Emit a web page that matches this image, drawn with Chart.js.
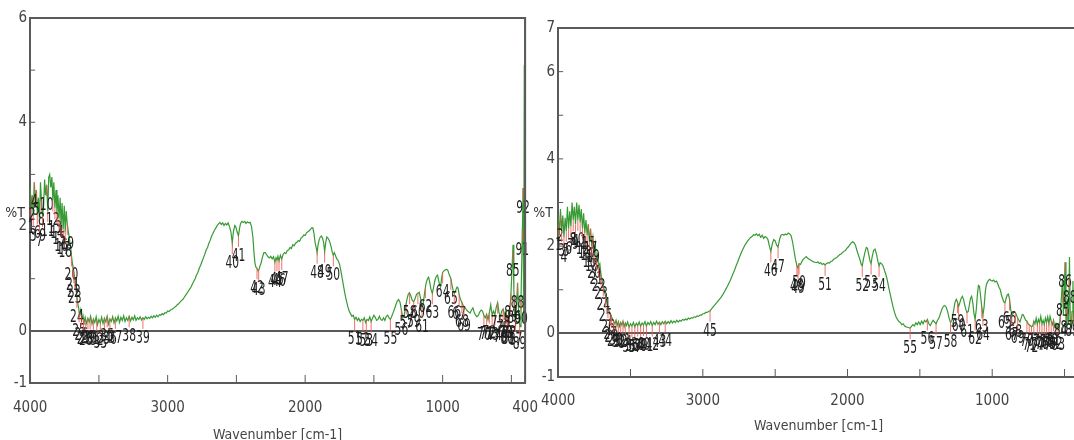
<!DOCTYPE html>
<html>
<head>
<meta charset="utf-8">
<script src="https://cdn.jsdelivr.net/npm/chart.js@4.4.1/dist/chart.umd.min.js"></script>
<style>
  html, body { margin: 0; padding: 0; background: #fff; overflow: hidden; width: 1074px; height: 440px; }
  #c1 { position: absolute; left: -3px; top: 0; }
  #c2 { position: absolute; left: 526px; top: 0; }
</style>
</head>
<body>
<canvas id="c1" width="557" height="446"></canvas>
<canvas id="c2" width="568" height="440"></canvas>
<script>
// spectrum 1 (left): [wavenumber, %T]
var leftSpectrum = [
  [4000,2.75],[3992,2.35],[3985,2.6],[3978,2.2],[3970,2.85],[3962,2.45],[3955,2.7],[3948,2.25],[3940,2.55],[3932,2.1],
  [3925,2.85],[3918,2.5],[3910,2.2],[3902,2.4],[3895,2.9],[3888,2.6],[3880,2.8],[3872,2.3],[3865,2.95],[3858,3.0],
  [3850,2.75],[3842,2.95],[3835,2.5],[3828,2.85],[3820,2.35],[3812,2.7],[3805,2.25],[3798,2.6],[3790,2.15],[3782,2.55],
  [3775,2.0],[3768,2.45],[3760,1.95],[3752,2.4],[3745,1.9],[3738,2.3],[3730,2.05],[3722,1.9],[3714,1.75],[3707,1.65],
  [3700,1.45],[3693,1.3],[3686,1.2],[3678,1.05],[3671,0.95],[3664,0.75],[3656,0.55],[3648,0.45],[3640,0.3],[3632,0.4],
  [3624,0.22],[3616,0.3],[3608,0.16],[3600,0.26],[3590,0.14],[3580,0.24],[3570,0.17],[3560,0.28],[3550,0.13],[3540,0.23],
  [3530,0.16],[3520,0.27],[3510,0.12],[3500,0.22],[3490,0.15],[3480,0.26],[3470,0.14],[3460,0.24],[3450,0.17],[3440,0.28],
  [3430,0.13],[3420,0.23],[3410,0.18],[3400,0.27],[3390,0.15],[3380,0.25],[3370,0.19],[3360,0.28],[3350,0.16],[3340,0.26],
  [3330,0.2],[3320,0.29],[3310,0.18],[3300,0.25],[3290,0.2],[3280,0.28],[3270,0.19],[3260,0.26],[3250,0.21],[3240,0.29],
  [3230,0.2],[3220,0.25],[3210,0.22],[3200,0.27],[3190,0.21],[3180,0.25],[3170,0.22],[3160,0.27],[3150,0.23],[3140,0.26],
  [3130,0.24],[3120,0.28],[3110,0.25],[3100,0.29],[3090,0.26],[3080,0.3],[3070,0.27],[3060,0.31],[3050,0.3],[3040,0.33],
  [3030,0.31],[3020,0.35],[3010,0.34],[3000,0.38],[2990,0.37],[2980,0.4],[2970,0.41],[2960,0.43],[2950,0.45],[2940,0.47],
  [2930,0.5],[2920,0.52],[2910,0.55],[2900,0.58],[2890,0.6],[2880,0.64],[2870,0.68],[2860,0.72],[2850,0.76],[2840,0.8],
  [2830,0.84],[2820,0.9],[2810,0.95],[2800,1.0],[2790,1.07],[2780,1.12],[2770,1.2],[2760,1.26],[2750,1.33],[2740,1.4],
  [2730,1.47],[2720,1.55],[2710,1.6],[2700,1.68],[2690,1.74],[2680,1.82],[2670,1.87],[2660,1.93],[2650,1.97],[2640,2.02],
  [2630,2.05],[2620,2.08],[2610,2.04],[2600,2.07],[2590,2.02],[2580,2.06],[2570,2.03],[2560,2.07],[2550,2.0],[2540,1.9],
  [2530,1.68],[2522,1.9],[2512,2.02],[2505,2.0],[2495,1.9],[2485,1.82],[2478,1.95],[2470,2.06],[2460,2.1],[2450,2.08],
  [2440,2.1],[2430,2.06],[2420,2.09],[2410,2.07],[2400,2.08],[2390,2.0],[2380,1.8],[2372,1.5],[2365,1.3],[2358,1.22],
  [2350,1.2],[2342,1.15],[2335,1.18],[2328,1.25],[2320,1.3],[2310,1.42],[2300,1.5],[2290,1.5],[2280,1.46],[2270,1.42],
  [2260,1.4],[2250,1.43],[2240,1.38],[2230,1.42],[2220,1.32],[2212,1.4],[2205,1.36],[2198,1.43],[2190,1.34],[2180,1.45],
  [2170,1.38],[2160,1.47],[2150,1.5],[2140,1.48],[2130,1.54],[2120,1.55],[2110,1.6],[2100,1.58],[2090,1.65],[2080,1.63],
  [2070,1.68],[2060,1.7],[2050,1.73],[2040,1.72],[2030,1.78],[2020,1.8],[2010,1.84],[2000,1.83],[1990,1.88],[1980,1.9],
  [1970,1.92],[1960,1.95],[1950,1.98],[1943,1.96],[1936,1.88],[1928,1.7],[1920,1.6],[1913,1.5],[1906,1.65],[1898,1.75],
  [1890,1.8],[1882,1.82],[1874,1.78],[1866,1.7],[1858,1.52],[1850,1.7],[1842,1.8],[1834,1.78],[1826,1.74],[1818,1.68],
  [1810,1.6],[1802,1.5],[1795,1.45],[1788,1.5],[1780,1.45],[1770,1.38],[1760,1.35],[1750,1.28],[1740,1.15],[1730,1.0],
  [1720,0.85],[1710,0.7],[1700,0.58],[1690,0.47],[1680,0.38],[1670,0.33],[1660,0.28],[1650,0.3],[1640,0.22],[1630,0.26],
  [1620,0.2],[1610,0.24],[1600,0.18],[1590,0.22],[1580,0.2],[1570,0.25],[1560,0.16],[1550,0.22],[1540,0.2],[1530,0.27],
  [1520,0.18],[1510,0.24],[1500,0.3],[1490,0.26],[1480,0.2],[1470,0.22],[1460,0.28],[1450,0.22],[1440,0.2],[1430,0.25],
  [1420,0.2],[1410,0.28],[1400,0.3],[1390,0.25],[1380,0.22],[1370,0.28],[1360,0.35],[1350,0.42],[1340,0.5],[1330,0.57],
  [1320,0.6],[1310,0.55],[1300,0.4],[1290,0.25],[1280,0.3],[1270,0.45],[1260,0.6],[1250,0.7],[1241,0.73],[1230,0.66],
  [1220,0.58],[1210,0.56],[1200,0.62],[1190,0.7],[1180,0.72],[1170,0.74],[1160,0.62],[1150,0.46],[1140,0.55],[1130,0.75],
  [1120,0.92],[1110,1.0],[1102,1.03],[1095,0.95],[1085,0.8],[1075,0.72],[1065,0.85],[1055,0.98],[1045,1.05],[1037,1.07],
  [1030,0.98],[1022,0.88],[1015,0.84],[1008,1.0],[1000,1.12],[990,1.15],[980,1.17],[970,1.18],[962,1.16],[955,1.1],
  [948,1.05],[940,1.0],[932,0.88],[924,0.78],[915,0.72],[905,0.78],[895,0.84],[888,0.82],[880,0.7],[870,0.6],
  [860,0.55],[850,0.48],[840,0.46],[830,0.42],[820,0.38],[810,0.36],[800,0.34],[790,0.4],[780,0.44],[770,0.35],
  [760,0.3],[750,0.27],[740,0.3],[730,0.36],[720,0.4],[710,0.38],[700,0.3],[690,0.25],[680,0.32],[670,0.21],
  [660,0.35],[650,0.5],[640,0.3],[630,0.38],[620,0.31],[610,0.45],[600,0.54],[590,0.35],[580,0.27],[570,0.38],
  [560,0.42],[550,0.3],[540,0.38],[530,0.22],[524,0.2],[515,0.35],[505,0.6],[495,1.2],[488,1.65],[482,0.8],
  [476,0.3],[470,0.2],[462,0.5],[455,0.92],[448,0.4],[442,0.15],[437,0.08],[430,0.6],[424,1.4],[418,2.2],
  [415,2.74],[412,1.0],[409,0.15],[406,5.1],[404,0.5],[402,6.5],[400,5.2]
];

// spectrum 2 (right)
var rightSpectrum = [
  [4000,2.7],[3992,2.25],[3984,2.85],[3976,2.35],[3968,2.7],[3960,2.2],[3952,2.65],[3944,2.35],[3936,2.9],[3928,2.4],
  [3920,2.8],[3912,2.45],[3904,3.0],[3896,2.6],[3888,2.9],[3880,2.5],[3872,3.0],[3864,2.6],[3856,2.95],[3848,2.55],
  [3840,2.85],[3832,2.4],[3824,2.75],[3816,2.3],[3808,2.6],[3800,2.25],[3792,2.5],[3784,2.1],[3776,2.4],[3768,2.0],
  [3760,2.2],[3752,1.85],[3744,2.05],[3736,1.7],[3728,1.8],[3720,1.55],[3712,1.6],[3704,1.35],[3696,1.2],[3688,1.1],
  [3680,0.95],[3672,0.85],[3664,0.7],[3656,0.6],[3648,0.5],[3640,0.45],[3632,0.38],[3624,0.33],[3616,0.28],[3608,0.22],
  [3600,0.3],[3592,0.18],[3584,0.27],[3576,0.16],[3568,0.25],[3560,0.19],[3552,0.28],[3544,0.15],[3536,0.24],[3528,0.18],
  [3520,0.26],[3510,0.14],[3500,0.22],[3490,0.17],[3480,0.25],[3470,0.15],[3460,0.23],[3450,0.18],[3440,0.26],[3430,0.16],
  [3420,0.24],[3410,0.19],[3400,0.27],[3390,0.17],[3380,0.25],[3370,0.2],[3360,0.27],[3350,0.18],[3340,0.25],[3330,0.2],
  [3320,0.28],[3310,0.21],[3300,0.26],[3290,0.2],[3280,0.27],[3270,0.22],[3260,0.28],[3250,0.22],[3240,0.27],[3230,0.23],
  [3220,0.29],[3210,0.24],[3200,0.28],[3190,0.25],[3180,0.3],[3170,0.26],[3160,0.3],[3150,0.28],[3140,0.32],[3130,0.3],
  [3120,0.33],[3110,0.31],[3100,0.35],[3090,0.33],[3080,0.36],[3070,0.35],[3060,0.38],[3050,0.37],[3040,0.4],[3030,0.39],
  [3020,0.42],[3010,0.42],[3000,0.45],[2990,0.45],[2980,0.48],[2970,0.48],[2960,0.5],[2950,0.52],[2940,0.56],[2930,0.6],
  [2920,0.64],[2910,0.68],[2900,0.72],[2890,0.76],[2880,0.8],[2870,0.85],[2860,0.9],[2850,0.96],[2840,1.02],[2830,1.08],
  [2820,1.15],[2810,1.22],[2800,1.3],[2790,1.38],[2780,1.46],[2770,1.55],[2760,1.63],[2750,1.72],[2740,1.8],[2730,1.88],
  [2720,1.95],[2710,2.02],[2700,2.07],[2690,2.12],[2680,2.16],[2670,2.2],[2660,2.22],[2650,2.26],[2640,2.25],[2630,2.28],
  [2620,2.24],[2610,2.27],[2600,2.2],[2590,2.25],[2580,2.18],[2570,2.22],[2560,2.2],[2550,2.15],[2540,2.0],[2530,1.88],
  [2520,2.05],[2510,2.15],[2500,2.12],[2490,2.02],[2480,1.98],[2470,2.15],[2460,2.25],[2450,2.27],[2440,2.25],[2430,2.28],
  [2420,2.26],[2410,2.3],[2400,2.28],[2390,2.24],[2380,2.1],[2370,1.9],[2360,1.7],[2350,1.55],[2342,1.5],[2335,1.6],
  [2325,1.58],[2315,1.65],[2305,1.7],[2295,1.73],[2285,1.76],[2275,1.72],[2265,1.7],[2255,1.68],[2245,1.66],[2235,1.64],
  [2225,1.63],[2215,1.62],[2205,1.64],[2195,1.6],[2185,1.62],[2175,1.58],[2165,1.6],[2155,1.57],[2145,1.6],[2135,1.62],
  [2125,1.61],[2115,1.65],[2105,1.66],[2095,1.7],[2085,1.72],[2075,1.74],[2065,1.77],[2055,1.8],[2045,1.82],[2035,1.85],
  [2025,1.88],[2015,1.9],[2005,1.95],[1995,1.98],[1985,2.03],[1975,2.07],[1965,2.1],[1955,2.08],[1945,2.02],[1935,1.9],
  [1925,1.8],[1915,1.7],[1905,1.58],[1898,1.55],[1890,1.7],[1880,1.85],[1870,1.97],[1862,1.95],[1853,1.8],[1844,1.65],
  [1837,1.6],[1830,1.75],[1820,1.9],[1810,1.93],[1800,1.82],[1790,1.65],[1782,1.55],[1774,1.62],[1765,1.6],[1755,1.55],
  [1745,1.45],[1735,1.35],[1725,1.22],[1715,1.05],[1705,0.9],[1695,0.75],[1685,0.6],[1675,0.48],[1665,0.38],[1655,0.32],
  [1645,0.27],[1635,0.25],[1625,0.2],[1615,0.22],[1605,0.17],[1595,0.15],[1585,0.14],[1575,0.13],[1567,0.12],[1558,0.16],
  [1548,0.2],[1538,0.17],[1528,0.24],[1518,0.2],[1508,0.26],[1498,0.2],[1488,0.28],[1478,0.22],[1468,0.3],[1458,0.26],
  [1448,0.32],[1438,0.22],[1428,0.18],[1418,0.25],[1408,0.3],[1398,0.26],[1388,0.22],[1378,0.3],[1368,0.35],[1358,0.45],
  [1348,0.55],[1338,0.62],[1328,0.64],[1318,0.6],[1308,0.5],[1298,0.35],[1288,0.25],[1278,0.3],[1268,0.5],[1258,0.7],
  [1248,0.78],[1240,0.72],[1232,0.62],[1224,0.7],[1215,0.8],[1206,0.85],[1198,0.78],[1190,0.65],[1182,0.55],[1174,0.48],
  [1166,0.5],[1158,0.65],[1150,0.8],[1142,0.85],[1134,0.7],[1126,0.45],[1118,0.32],[1110,0.55],[1102,0.9],[1095,1.1],
  [1088,1.08],[1080,0.85],[1072,0.6],[1064,0.42],[1056,0.6],[1048,0.95],[1040,1.12],[1032,1.18],[1024,1.22],[1016,1.24],
  [1008,1.21],[1000,1.2],[990,1.22],[980,1.18],[970,1.2],[960,1.12],[952,1.05],[944,1.0],[936,0.88],[928,0.8],
  [920,0.72],[912,0.7],[904,0.8],[896,0.88],[888,0.9],[880,0.78],[872,0.55],[864,0.42],[856,0.45],[848,0.5],
  [840,0.48],[832,0.42],[824,0.35],[816,0.3],[808,0.26],[800,0.35],[792,0.43],[784,0.42],[776,0.35],[768,0.3],
  [760,0.28],[752,0.22],[744,0.2],[736,0.18],[728,0.15],[720,0.17],[712,0.28],[704,0.22],[696,0.35],[688,0.2],
  [680,0.32],[672,0.25],[664,0.39],[656,0.22],[648,0.3],[640,0.2],[632,0.35],[624,0.25],[616,0.38],[608,0.22],
  [600,0.39],[592,0.28],[584,0.2],[576,0.3],[568,0.15],[560,0.22],[552,0.1],[544,0.2],[536,0.12],[528,0.5],
  [520,0.9],[514,1.24],[508,0.4],[502,1.0],[496,1.63],[490,0.3],[484,0.15],[478,0.8],[472,0.2],[466,1.75],
  [460,0.3],[454,0.1],[448,0.5],[442,1.2],[436,0.2],[430,0.6],[420,0.1],[410,0.4],[400,0.2]
];

// peak picks, numbered 1..n in order
var leftPeaks = [
  3992,3985,3978,3970,3955,3948,3932,3918,3910,3880,3872,3835,3820,3805,3790,3775,3760,3745,3730,
  3700,3690,3682,3675,3660,3644,3628,3612,3596,3580,3564,3540,3516,3490,3460,3440,3420,3380,3280,3180,
  2530,2485,2350,2338,2220,2205,2190,2170,1913,1858,1795,
  1640,1580,1555,1520,1380,1300,1265,1240,1210,1180,1150,1125,1075,1000,940,915,880,860,845,
  700,680,660,640,620,600,580,560,545,538,530,522,515,508,503,490,480,470,455,440,430,420,415
];
var rightPeaks = [
  3996,3986,3976,3960,3944,3928,3912,3896,3880,3864,3848,3832,3816,3800,3792,3784,3776,3768,3760,
  3752,3736,3720,3704,3688,3672,3656,3640,3632,
  3616,3600,3584,3568,3552,3536,3510,3490,3470,3450,3430,3410,3390,3350,3300,3260,
  2950,2530,2480,2350,2342,2335,2155,1898,1837,1782,1567,1448,1388,1288,1240,1232,1174,1118,1072,1064,
  912,880,864,840,824,760,744,728,712,688,672,656,640,624,608,592,576,560,544,528,512,496,480,464,448
];

var xTickVals = [4000, 3500, 3000, 2500, 2000, 1500, 1000, 500, 400];
var leftXLabels = [4000, 3000, 2000, 1000, 400];
var rightXLabels = [4000, 3000, 2000, 1000];
var leftYTicks = [-1, 0, 1, 2, 3, 4, 5, 6];
var leftYLabels = [-1, 0, 2, 4, 6];
var rightYTicks = [-1, 0, 1, 2, 3, 4, 5, 6, 7];
var rightYLabels = [-1, 0, 2, 4, 6, 7];

var narrow = '"Liberation Sans Narrow", "DejaVu Sans Condensed", "Liberation Sans", sans-serif';
var axisColor = '#5a5a5a';

function valueAt(spec, wn) {
  for (var i = 0; i < spec.length - 1; i++) {
    var a = spec[i], b = spec[i + 1];
    if (wn <= a[0] && wn >= b[0]) {
      var f = (a[0] - wn) / (a[0] - b[0]);
      return a[1] + (b[1] - a[1]) * f;
    }
  }
  return 0;
}

// red pick marks with their numbers (tall, squeezed digits like the original software)
function peakPlugin(spec, peaks) {
  return {
    id: 'peaks',
    afterDatasetsDraw: function (chart) {
      var ctx = chart.ctx, x = chart.scales.x, y = chart.scales.y;
      ctx.save();
      peaks.forEach(function (wn, i) {
        var v = valueAt(spec, wn);
        var px = x.getPixelForValue(wn);
        var py = y.getPixelForValue(v);
        ctx.strokeStyle = 'rgba(232, 90, 80, 0.85)';
        ctx.lineWidth = 1;
        ctx.beginPath();
        ctx.moveTo(px, py);
        ctx.lineTo(px, py + 11);
        ctx.stroke();
        ctx.save();
        ctx.translate(px, py + 12);
        ctx.scale(0.7, 1);
        ctx.font = '17px ' + narrow;
        ctx.textAlign = 'center';
        ctx.textBaseline = 'top';
        ctx.fillStyle = '#1e1e1e';
        ctx.fillText(String(i + 1), 0, 0);
        ctx.restore();
      });
      ctx.restore();
    },
  };
}

// box around plot, inward tick marks, %T label
var framePlugin = {
  id: 'frame',
  afterDraw: function (chart) {
    var ctx = chart.ctx, a = chart.chartArea;
    var x = chart.scales.x, y = chart.scales.y;
    ctx.save();
    ctx.strokeStyle = axisColor;
    ctx.lineWidth = 2;
    ctx.beginPath();
    ctx.moveTo(a.left, a.top);
    ctx.lineTo(a.right, a.top);
    ctx.lineTo(a.right, a.bottom);
    ctx.stroke();
    ctx.lineWidth = 1;
    y.ticks.forEach(function (t) {
      var py = y.getPixelForValue(t.value);
      ctx.beginPath();
      ctx.moveTo(a.left, py);
      ctx.lineTo(a.left + 5, py);
      ctx.stroke();
    });
    x.ticks.forEach(function (t) {
      var px = x.getPixelForValue(t.value);
      ctx.beginPath();
      ctx.moveTo(px, a.bottom);
      ctx.lineTo(px, a.bottom - 8);
      ctx.stroke();
    });
    ctx.fillStyle = '#333';
    ctx.font = '14px ' + narrow;
    ctx.textAlign = 'center';
    ctx.textBaseline = 'middle';
    ctx.fillText('%T', a.left - 15, 213);
    ctx.restore();
  },
};

function makeChart(id, spec, peaks, yMax, yTicks, yLabels, xLabels, pad, yWidth, xPad, titlePad) {
  var ctx = document.getElementById(id).getContext('2d');
  return new Chart(ctx, {
    type: 'scatter',
    data: {
      datasets: [
        {
          label: '%T',
          data: spec.map(function (p) { return { x: p[0], y: p[1] }; }),
          showLine: true,
          borderColor: '#389a34',
          borderWidth: 1.2,
          pointRadius: 0,
          tension: 0,
        },
      ],
    },
    options: {
      responsive: false,
      animation: false,
      devicePixelRatio: 1,
      layout: { padding: pad },
      plugins: {
        legend: { display: false },
        tooltip: { enabled: false },
      },
      scales: {
        x: {
          type: 'linear',
          reverse: true,
          min: 400,
          max: 4000,
          afterBuildTicks: function (s) {
            s.ticks = xTickVals.map(function (v) { return { value: v }; });
          },
          afterFit: function (s) { s.height = pad.xHeight; },
          grid: { display: true, drawOnChartArea: false, drawTicks: false },
          border: { display: true, color: axisColor, width: 2 },
          ticks: {
            autoSkip: false,
            maxRotation: 0,
            padding: xPad,
            color: '#444',
            font: { family: narrow, size: 15 },
            callback: function (v) { return xLabels.indexOf(v) >= 0 ? String(v) : ''; },
          },
          title: {
            display: true,
            text: 'Wavenumber [cm-1]',
            color: '#444',
            font: { family: narrow, size: 14 },
            padding: { top: 0, bottom: titlePad },
          },
        },
        y: {
          min: -1,
          max: yMax,
          afterBuildTicks: function (s) {
            s.ticks = yTicks.map(function (v) { return { value: v }; });
          },
          afterFit: function (s) { s.width = yWidth; },
          grid: {
            drawTicks: false,
            color: function (c) { return c.tick && c.tick.value === 0 ? axisColor : 'rgba(0,0,0,0)'; },
            lineWidth: function (c) { return c.tick && c.tick.value === 0 ? 2 : 0; },
          },
          border: { display: true, color: axisColor, width: 2 },
          ticks: {
            autoSkip: false,
            padding: 3,
            color: '#444',
            font: { family: narrow, size: 15 },
            callback: function (v) { return yLabels.indexOf(v) >= 0 ? String(v) : ''; },
          },
        },
      },
    },
    plugins: [peakPlugin(spec, peaks), framePlugin],
  });
}

makeChart('c1', leftSpectrum, leftPeaks, 6, leftYTicks, leftYLabels, leftXLabels,
  { left: 0, right: 0, top: 18, bottom: 0, xHeight: 63 }, 28, 16, 2);
makeChart('c2', rightSpectrum, rightPeaks, 7, rightYTicks, rightYLabels, rightXLabels,
  { left: 0, right: 2, top: 28, bottom: 0, xHeight: 63 }, 29, 15, 5);
</script>
</body>
</html>
